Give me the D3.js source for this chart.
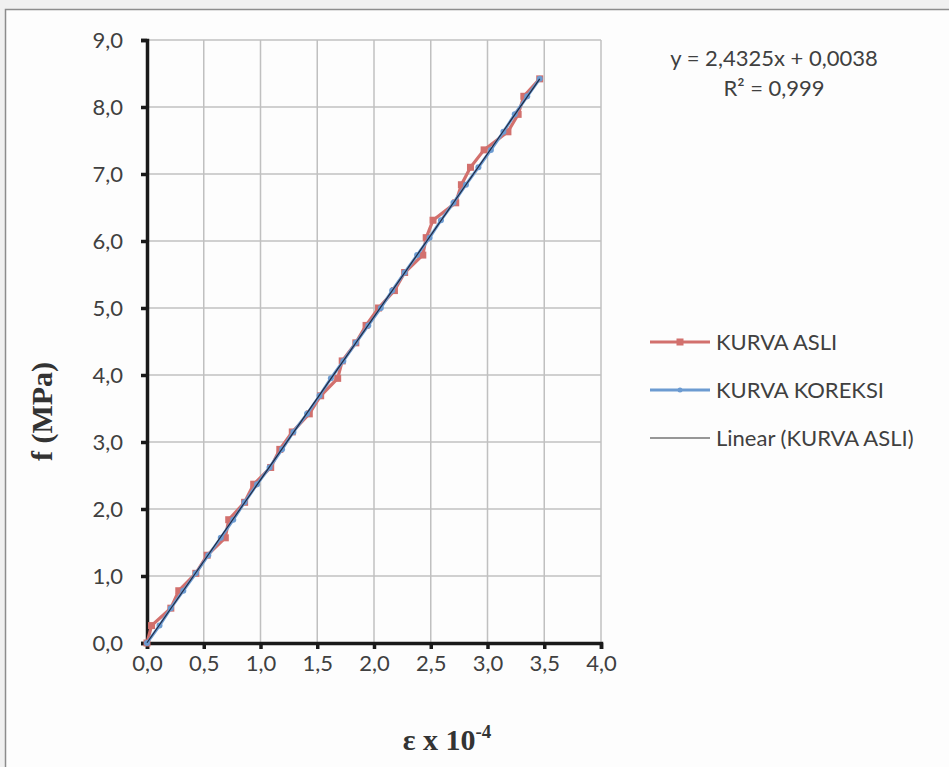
<!DOCTYPE html>
<html>
<head>
<meta charset="utf-8">
<script src="https://cdn.jsdelivr.net/npm/d3@7"></script>
<style>
  body { margin: 0; background: #f0f0f0; }
  svg { display: block; }
</style>
</head>
<body>
<svg width="949" height="767"></svg>
<script>
// KURVA ASLI (original curve)
const asliX = [0.00, 0.04, 0.21, 0.28, 0.43, 0.53, 0.69, 0.72, 0.86, 0.94, 1.09, 1.17, 1.28, 1.43, 1.53, 1.68,
               1.72, 1.84, 1.93, 2.04, 2.18, 2.27, 2.43, 2.46, 2.52, 2.72, 2.77, 2.85, 2.97, 3.18, 3.27, 3.32, 3.46];
const asliY = [0.00, 0.26, 0.52, 0.78, 1.04, 1.31, 1.57, 1.84, 2.10, 2.37, 2.62, 2.89, 3.15, 3.42, 3.69, 3.95,
               4.21, 4.48, 4.74, 5.00, 5.26, 5.53, 5.79, 6.05, 6.31, 6.57, 6.84, 7.10, 7.36, 7.63, 7.89, 8.16, 8.42];
// KURVA KOREKSI (corrected curve)
const koreksiX = [0.00, 0.11, 0.21, 0.32, 0.43, 0.54, 0.65, 0.76, 0.86, 0.97, 1.08, 1.19, 1.29, 1.41, 1.52, 1.62,
                  1.73, 1.84, 1.95, 2.06, 2.16, 2.27, 2.38, 2.49, 2.59, 2.70, 2.81, 2.92, 3.03, 3.14, 3.24, 3.35, 3.46];
const koreksiY = asliY;
// linear trendline of KURVA ASLI
const slope = 2.4325, intercept = 0.0038;
const trendX = [0, 3.46];

const xTicks = [0, 0.5, 1, 1.5, 2, 2.5, 3, 3.5, 4];
const yTicks = [0, 1, 2, 3, 4, 5, 6, 7, 8, 9];

const fmt = d => d3.format(".1f")(d).replace(".", ",");
const red = "#d2706d", blue = "#6c9bd1";
const sans = "Lato, sans-serif";

const svg = d3.select("svg");
const margin = {top: 40, left: 147, right: 348, bottom: 124};
const width = 949 - margin.left - margin.right;
const height = 767 - margin.top - margin.bottom;

// chart frame
svg.append("rect").attr("x", 5.5).attr("y", 9.5).attr("width", 960).attr("height", 780)
    .attr("fill", "#fdfdfd").attr("stroke", "#8c8c8c").attr("stroke-width", 1.5);

const x = d3.scaleLinear().domain([0, 4]).range([margin.left, margin.left + width]);
const y = d3.scaleLinear().domain([0, 9]).range([margin.top + height, margin.top]);

// Gridlines
svg.append("g").selectAll("line").data(xTicks).enter().append("line")
    .attr("x1", d => x(d)).attr("x2", d => x(d))
    .attr("y1", y(0)).attr("y2", y(9))
    .attr("stroke", "#c0c0c0").attr("stroke-width", 1.5);
svg.append("g").selectAll("line").data(yTicks).enter().append("line")
    .attr("x1", x(0)).attr("x2", x(4))
    .attr("y1", d => y(d)).attr("y2", d => y(d))
    .attr("stroke", "#c0c0c0").attr("stroke-width", 1.5);

// Axis
const xAxis = svg.append("g")
    .attr("transform", `translate(0,${y(0)})`)
    .call(d3.axisBottom(x).tickValues(xTicks).tickFormat(fmt).tickSize(6).tickPadding(6));
const yAxis = svg.append("g")
    .attr("transform", `translate(${x(0)},0)`)
    .call(d3.axisLeft(y).tickValues(yTicks).tickFormat(fmt).tickSize(6).tickPadding(18));
[xAxis, yAxis].forEach(g => {
    g.select(".domain").attr("stroke", "#1a1a1a").attr("stroke-width", 3.5);
    g.selectAll(".tick line").attr("stroke", "#1a1a1a").attr("stroke-width", 3.5);
    g.selectAll(".tick text").attr("fill", "#404040")
        .style("font-family", sans).style("font-size", "22px");
});
yAxis.selectAll(".tick text").attr("dy", "0.35em");

// Axis labels
svg.append("text")
    .attr("transform", `translate(52,${(y(0) + y(9)) / 2 + 70}) rotate(-90)`)
    .attr("text-anchor", "middle")
    .attr("fill", "#333")
    .style("font-family", "'Liberation Serif', serif").style("font-weight", "bold").style("font-size", "30px")
    .text("f (MPa)");
const xt = svg.append("text")
    .attr("x", 447).attr("y", 750)
    .attr("text-anchor", "middle")
    .attr("fill", "#333")
    .style("font-family", "'Liberation Serif', serif").style("font-weight", "bold").style("font-size", "30px");
xt.append("tspan").text("ε x 10");
xt.append("tspan").attr("dy", -12).style("font-size", "19px").text("-4");

// Series
const asli = asliX.map((d, i) => [d, asliY[i]]);
const koreksi = koreksiX.map((d, i) => [d, koreksiY[i]]);
const line = d3.line().x(d => x(d[0])).y(d => y(d[1]));

svg.append("path").datum(asli).attr("d", line)
    .attr("fill", "none").attr("stroke", red).attr("stroke-width", 3.2);
svg.append("g").selectAll("rect").data(asli).enter().append("rect")
    .attr("x", d => x(d[0]) - 3.5).attr("y", d => y(d[1]) - 3.5)
    .attr("width", 7).attr("height", 7).attr("fill", red);

svg.append("path").datum(koreksi).attr("d", line)
    .attr("fill", "none").attr("stroke", blue).attr("stroke-width", 3);
svg.append("g").selectAll("circle").data(koreksi).enter().append("circle")
    .attr("cx", d => x(d[0])).attr("cy", d => y(d[1])).attr("r", 3).attr("fill", blue);

svg.append("line")
    .attr("x1", x(trendX[0])).attr("y1", y(slope * trendX[0] + intercept))
    .attr("x2", x(trendX[1])).attr("y2", y(slope * trendX[1] + intercept))
    .attr("stroke", "#1f2a44").attr("stroke-width", 1.2);

// Equation
const eq = svg.append("g").attr("fill", "#404040")
    .style("font-family", sans).style("font-size", "22px");
eq.append("text").attr("x", 774).attr("y", 66).attr("text-anchor", "middle").text("y = 2,4325x + 0,0038");
eq.append("text").attr("x", 774).attr("y", 96).attr("text-anchor", "middle").text("R² = 0,999");

// Legend
const legend = [
    {name: "KURVA ASLI", color: red, w: 3, marker: "rect"},
    {name: "KURVA KOREKSI", color: blue, w: 3, marker: "circle"},
    {name: "Linear (KURVA ASLI)", color: "#333", w: 1.2, marker: null}
];
const lg = svg.append("g").selectAll("g").data(legend).enter().append("g")
    .attr("transform", (d, i) => `translate(650,${342 + i * 48})`);
lg.append("line").attr("x1", 0).attr("x2", 60).attr("y1", 0).attr("y2", 0)
    .attr("stroke", d => d.color).attr("stroke-width", d => d.w);
lg.filter(d => d.marker === "rect").append("rect")
    .attr("x", 26.5).attr("y", -3.5).attr("width", 7).attr("height", 7).attr("fill", d => d.color);
lg.filter(d => d.marker === "circle").append("circle")
    .attr("cx", 30).attr("cy", 0).attr("r", 2.5).attr("fill", d => d.color);
lg.append("text").attr("x", 66).attr("y", 0).attr("dy", "0.35em")
    .attr("fill", "#404040")
    .style("font-family", sans).style("font-size", "22px")
    .text(d => d.name);
</script>
</body>
</html>
